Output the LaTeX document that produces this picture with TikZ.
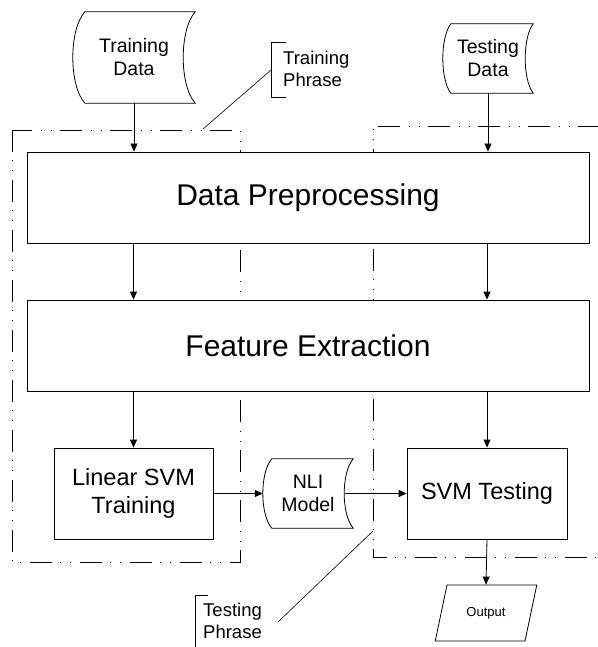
\documentclass[tikz,border=0pt]{standalone}
\usepackage{fontspec}
\setmainfont{Liberation Sans}
\usetikzlibrary{arrows.meta,shapes.geometric,calc}

\newcommand{\datashape}[3]{%
	\draw[shapeline] ([xshift=#2]#1.north west) -- (#1.north east)
		.. controls ([xshift={-4*#2/3},yshift=-#3]#1.north east) and ([xshift={-4*#2/3},yshift=#3]#1.south east) .. (#1.south east)
		-- ([xshift=#2]#1.south west)
		.. controls ([xshift={-#2/3},yshift=#3]#1.south west) and ([xshift={-#2/3},yshift=-#3]#1.north west) .. ([xshift=#2]#1.north west) -- cycle;}

\begin{document}
\begin{tikzpicture}[x=1pt,y=-1pt,
		shapeline/.style={line width=0.8pt},
		box/.style={draw, fill=white, line width=0.8pt, inner sep=0pt, align=center},
		datanode/.style={inner sep=0pt, align=center, font=\fontsize{19.5}{23}\selectfont},
		flow/.style={-{Triangle[length=8pt,width=7pt]}, line width=0.8pt},
		phase/.style={line width=0.7pt, dash pattern=on 22pt off 8pt on 1pt off 9pt on 1pt off 9pt},
		callout/.style={line width=0.6pt},
		bigtext/.style={font=\fontsize{30}{36}\selectfont},
		midtext/.style={font=\fontsize{23.5}{28}\selectfont},
		notetext/.style={anchor=west, align=left, inner sep=0pt, font=\fontsize{18.5}{22.5}\selectfont}]
		\useasboundingbox (0,0) rectangle (597,647);
		\draw[phase] (12,130) rectangle (240,562);
		\draw[phase] (600,126) -- (373,126) -- (373,557) -- (600,557);
		\node[datanode, minimum width=122pt, minimum height=91pt] (trd) at (134,57.5) {Training\\Data};
		\node[datanode, minimum width=90pt, minimum height=69pt] (ted) at (488,58.5) {Testing\\Data};
		\node[datanode, minimum width=90pt, minimum height=69pt] (nli) at (308,493.5) {NLI\\Model};
		\datashape{trd}{12pt}{18pt}
		\datashape{ted}{8pt}{14pt}
		\datashape{nli}{9pt}{14pt}
		\node[box, bigtext, minimum width=562pt, minimum height=91pt] (prep) at (308,197.5) {Data Preprocessing};
		\node[box, bigtext, minimum width=562pt, minimum height=91pt] (feat) at (308,345.5) {Feature Extraction};
		\node[box, midtext, minimum width=159pt, minimum height=91pt] (lsvm) at (133.5,493.5) {Linear SVM\\Training};
		\node[box, midtext, minimum width=160pt, minimum height=91pt] (svmt) at (487,493.5) {SVM Testing};
		\node[draw, fill=white, line width=0.8pt, trapezium, trapezium left angle=63.4, trapezium right angle=116.6, trapezium stretches=true, minimum width=102pt, minimum height=56pt, inner sep=0pt, font=\fontsize{13}{15}\selectfont] (out) at (486,613) {Output};
		\node[notetext] (trph) at (283,69) {Training\\Phrase};
		\node[notetext] (teph) at (203,621) {Testing\\Phrase};
		\coordinate (trbr) at (271,70);
		\coordinate (trend) at (203,129);
		\coordinate (tebr) at (278,622);
		\coordinate (teend) at (373,531);
		\draw[callout] (286,42) -- (271,42) -- (271,97) -- (286,97);
		\draw[callout] (208,595) -- (195,595) -- (195,650);
		\draw[callout] (trbr) -- (trend);
		\draw[callout] (tebr) -- (teend);
		\draw[flow] (trd.south) -- (trd.south |- prep.north);
		\draw[flow] (ted.south) -- (ted.south |- prep.north);
		\draw[flow] (prep.south -| lsvm) -- (feat.north -| lsvm);
		\draw[flow] (prep.south -| svmt) -- (feat.north -| svmt);
		\draw[flow] (feat.south -| lsvm) -- (lsvm.north);
		\draw[flow] (feat.south -| svmt) -- (svmt.north);
		\draw[flow] (lsvm.east) -- (nli.west);
		\draw[flow] ([xshift=-8pt]nli.east) -- (svmt.west);
		\draw[flow] (svmt.south) -- (out.north);
	\end{tikzpicture}
\end{document}
